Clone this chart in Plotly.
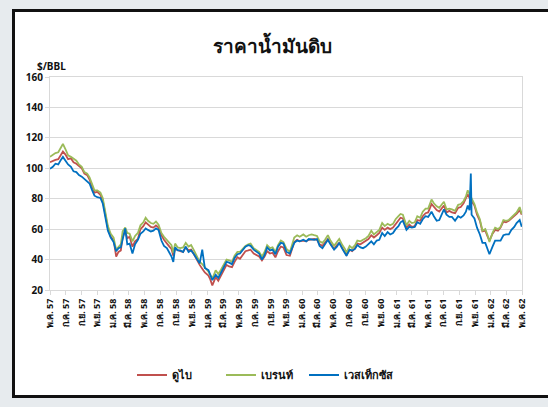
import plotly.graph_objects as go

dates = [
    "2014-05-01", "2014-05-12", "2014-05-22", "2014-06-02", "2014-06-12", "2014-06-20", "2014-06-30",
    "2014-07-10", "2014-07-21", "2014-07-31", "2014-08-11", "2014-08-21", "2014-09-01", "2014-09-11",
    "2014-09-22", "2014-10-01", "2014-10-10", "2014-10-20", "2014-10-31", "2014-11-12", "2014-11-21",
    "2014-12-01", "2014-12-11", "2014-12-22", "2015-01-02", "2015-01-12", "2015-01-21", "2015-01-30",
    "2015-02-06", "2015-02-16", "2015-02-24", "2015-03-05", "2015-03-16", "2015-03-26", "2015-04-06",
    "2015-04-16", "2015-04-27", "2015-05-06", "2015-05-15", "2015-05-26", "2015-06-05", "2015-06-15",
    "2015-06-25", "2015-07-06", "2015-07-16", "2015-07-27", "2015-08-06", "2015-08-14", "2015-08-21",
    "2015-08-28", "2015-09-07", "2015-09-17", "2015-09-28", "2015-10-08", "2015-10-19", "2015-10-29",
    "2015-11-09", "2015-11-20", "2015-12-01", "2015-12-11", "2015-12-21", "2016-01-04", "2016-01-11",
    "2016-01-19", "2016-02-01", "2016-02-11", "2016-02-22", "2016-03-03", "2016-03-14", "2016-03-24",
    "2016-04-04", "2016-04-14", "2016-04-25", "2016-05-05", "2016-05-16", "2016-05-26", "2016-06-06",
    "2016-06-15", "2016-06-27", "2016-07-07", "2016-07-18", "2016-07-29", "2016-08-08", "2016-08-18",
    "2016-08-29", "2016-09-08", "2016-09-19", "2016-09-29", "2016-10-10", "2016-10-20", "2016-11-01",
    "2016-11-14", "2016-12-01", "2016-12-12", "2016-12-22", "2017-01-05", "2017-01-16", "2017-01-26",
    "2017-02-06", "2017-02-16", "2017-02-27", "2017-03-09", "2017-03-20", "2017-03-30", "2017-04-10",
    "2017-04-20", "2017-05-04", "2017-05-15", "2017-05-24", "2017-06-05", "2017-06-15", "2017-06-21",
    "2017-07-03", "2017-07-13", "2017-07-24", "2017-08-02", "2017-08-14", "2017-08-24", "2017-09-04",
    "2017-09-14", "2017-09-25", "2017-10-05", "2017-10-16", "2017-10-26", "2017-11-06", "2017-11-16",
    "2017-11-27", "2017-12-07", "2017-12-18", "2017-12-28", "2018-01-08", "2018-01-16", "2018-01-25",
    "2018-02-08", "2018-02-19", "2018-03-01", "2018-03-12", "2018-03-22", "2018-04-02", "2018-04-12",
    "2018-04-23", "2018-05-03", "2018-05-16", "2018-05-25", "2018-06-05", "2018-06-15", "2018-06-26",
    "2018-07-03", "2018-07-13", "2018-07-24", "2018-08-03", "2018-08-15", "2018-08-27", "2018-09-06",
    "2018-09-17", "2018-09-26", "2018-10-03", "2018-10-10", "2018-10-15", "2018-10-18", "2018-10-29",
    "2018-11-08", "2018-11-19", "2018-11-29", "2018-12-10", "2018-12-19", "2018-12-26", "2019-01-07",
    "2019-01-17", "2019-01-28", "2019-02-07", "2019-02-18", "2019-02-28", "2019-03-11", "2019-03-21",
    "2019-04-01", "2019-04-10", "2019-04-22", "2019-04-30",
]

dubai = [
    104.0, 105.0, 105.5, 106.0, 108.5, 111.0, 109.0,
    106.0, 106.5, 104.0, 103.0, 101.5, 100.0, 96.5,
    95.5, 92.5, 88.0, 84.0, 84.5, 82.5, 79.0,
    69.0, 60.5, 55.0, 53.0, 42.0, 45.0, 46.0,
    55.0, 58.5, 54.0, 55.0, 48.5, 52.0, 53.5,
    60.0, 62.0, 64.5, 63.0, 61.5, 61.0, 62.5,
    61.0, 56.0, 53.0, 51.0, 48.5, 47.0, 42.5,
    47.0, 46.0, 45.5, 45.0, 48.0, 46.0, 46.5,
    43.5, 39.5, 36.5, 34.0, 31.5, 29.5, 27.0,
    23.0, 28.5, 26.0, 29.5, 32.5, 36.5, 35.5,
    35.0, 38.5, 41.5, 40.5, 43.5, 45.5, 46.0,
    46.5, 44.0, 43.0, 42.0, 39.5, 42.0, 45.5,
    44.0, 44.5, 41.5, 45.5, 48.5, 48.0, 43.0,
    42.5, 51.5, 53.0, 52.0, 52.5, 52.0, 53.0,
    53.5, 53.5, 53.0, 50.0, 49.0, 51.0, 53.5,
    50.5, 47.0, 49.5, 51.0, 47.5, 45.0, 43.0,
    46.5, 45.5, 47.5, 50.5, 50.0, 51.0, 52.0,
    53.5, 56.0, 54.5, 56.0, 57.5, 61.0, 59.5,
    61.0, 60.0, 61.0, 63.5, 66.0, 67.5, 67.0,
    61.0, 63.0, 61.5, 62.0, 66.0, 65.5, 68.5,
    70.5, 71.0, 76.5, 74.5, 72.5, 71.5, 74.5,
    75.5, 71.0, 72.0, 71.0, 70.5, 74.0, 74.5,
    77.0, 80.0, 83.0, 80.5, 79.0, 78.5, 75.5,
    69.5, 65.5, 58.5, 59.0, 55.0, 52.5, 57.0,
    59.5, 59.0, 61.0, 65.0, 64.5, 65.5, 67.0,
    68.5, 70.0, 72.5, 69.5,
]

brent = [
    107.5, 109.0, 110.0, 110.5, 113.5, 116.0, 112.5,
    108.5, 107.5, 106.0, 105.0, 102.5, 101.0, 97.5,
    96.5, 94.0, 90.0, 85.5, 85.5, 84.0, 80.5,
    71.0, 62.0, 57.0, 54.5, 46.5, 48.5, 50.0,
    58.5, 61.0, 57.5, 57.0, 52.0, 55.5, 57.5,
    62.5, 64.5, 67.5, 65.5, 64.0, 63.5, 65.0,
    63.0, 57.5, 55.0, 53.0, 50.5, 49.5, 44.5,
    50.5, 48.0, 47.5, 48.0, 51.0, 48.5, 49.5,
    46.0, 42.0, 38.5, 37.0, 35.0, 32.0, 30.0,
    27.5, 33.0, 30.5, 33.5, 36.5, 40.0, 39.5,
    38.5, 42.5, 45.0, 45.0, 47.5, 49.0, 50.0,
    50.5, 47.5, 46.0, 45.0, 42.0, 45.0, 49.5,
    47.5, 48.0, 45.0, 49.5, 52.5, 51.5, 47.0,
    45.0, 54.5, 56.0, 55.0, 56.5, 55.0, 56.0,
    56.5, 56.0, 55.5, 52.0, 51.0, 53.0, 56.0,
    52.5, 49.0, 51.5, 53.5, 49.5, 47.0, 44.5,
    49.0, 47.5, 49.5, 52.5, 52.0, 53.0, 54.0,
    55.5, 59.0, 56.5, 58.0, 59.5, 64.0, 62.0,
    63.5, 62.5, 63.5, 66.5, 68.5, 70.0, 69.5,
    62.5, 65.5, 64.0, 64.5, 68.5, 67.5, 71.5,
    73.5, 73.5, 79.5, 77.0, 75.0, 74.0, 76.5,
    78.0, 73.0, 73.5, 73.0, 72.0, 76.0, 76.5,
    78.5, 81.5, 85.5, 83.0, 80.5, 79.5, 76.5,
    71.0, 66.5, 59.0, 60.0, 56.0, 51.5, 57.5,
    61.0, 60.0, 61.5, 66.0, 65.5, 66.0, 67.5,
    69.0, 71.0, 74.5, 70.0,
]

wti = [
    99.7, 101.0, 103.0, 102.5, 105.5, 107.5, 105.0,
    102.5, 101.0, 98.0, 97.5, 95.5, 94.5, 93.0,
    92.0, 90.0, 86.0, 82.0, 81.0, 80.5, 77.0,
    67.0, 59.0, 54.5, 51.5, 45.5, 47.5, 48.0,
    54.0, 60.5, 50.0, 50.5, 44.0, 50.0, 53.0,
    57.0, 58.5, 60.5, 59.5, 58.5, 59.0, 60.5,
    59.5, 52.5, 49.0, 47.5, 44.5, 42.0, 38.5,
    48.0, 46.0, 46.0, 45.0, 48.5, 45.0, 46.0,
    43.5, 40.0, 37.5, 46.5, 34.5, 33.0, 30.0,
    26.5, 30.0, 28.0, 31.5, 34.5, 38.5, 38.0,
    37.0, 41.0, 43.5, 44.0, 46.5, 48.5, 49.5,
    49.0, 46.5, 45.0, 44.0, 40.0, 43.0, 48.0,
    46.0, 46.5, 43.5, 48.5, 51.0, 50.5, 45.0,
    44.0, 51.0, 52.5, 52.0, 53.0, 52.0, 53.5,
    53.0, 53.0, 53.5, 49.0, 47.5, 50.0, 53.0,
    50.0, 46.5, 48.5, 51.0, 47.0, 44.5, 42.5,
    46.5, 46.0, 47.0, 49.5, 48.0, 47.5, 48.5,
    50.0, 52.0, 50.0, 52.5, 53.0, 57.5, 55.5,
    58.0, 56.5, 57.5, 60.0, 62.0, 64.5, 65.5,
    59.5, 61.5, 61.0, 61.5, 64.5, 63.5, 66.5,
    68.5, 68.0, 71.5, 68.5, 65.5, 66.0, 70.5,
    73.0, 69.5, 68.0, 68.0, 65.5, 68.5, 67.5,
    69.0, 71.5, 75.5, 72.5, 96.5, 69.5, 67.0,
    61.0, 56.5, 51.0, 51.0, 46.5, 43.5, 48.5,
    52.5, 52.5, 52.5, 56.0, 56.5, 56.5, 59.5,
    61.5, 64.0, 66.0, 61.5,
]

tick_dates = [
    "2014-05-01", "2014-07-01", "2014-09-01", "2014-11-01",
    "2015-01-01", "2015-03-01", "2015-05-01", "2015-07-01", "2015-09-01", "2015-11-01",
    "2016-01-01", "2016-03-01", "2016-05-01", "2016-07-01", "2016-09-01", "2016-11-01",
    "2017-01-01", "2017-03-01", "2017-05-01", "2017-07-01", "2017-09-01", "2017-11-01",
    "2018-01-01", "2018-03-01", "2018-05-01", "2018-07-01", "2018-09-01", "2018-11-01",
    "2019-01-01", "2019-03-01", "2019-05-01",
]
tick_labels = [
    "พ.ค. 57", "ก.ค. 57", "ก.ย. 57", "พ.ย. 57",
    "ม.ค. 58", "มี.ค. 58", "พ.ค. 58", "ก.ค. 58", "ก.ย. 58", "พ.ย. 58",
    "ม.ค. 59", "มี.ค. 59", "พ.ค. 59", "ก.ค. 59", "ก.ย. 59", "พ.ย. 59",
    "ม.ค. 60", "มี.ค. 60", "พ.ค. 60", "ก.ค. 60", "ก.ย. 60", "พ.ย. 60",
    "ม.ค. 61", "มี.ค. 61", "พ.ค. 61", "ก.ค. 61", "ก.ย. 61", "พ.ย. 61",
    "ม.ค. 62", "มี.ค. 62", "พ.ค. 62",
]

series_names = ["ดูไบ", "เบรนท์", "เวสเท็กซัส"]
series_colors = ["#c0504d", "#9bbb59", "#0070c0"]
title_text = "ราคาน้ำมันดิบ"
unit_text = "$/BBL"

FONT = "Tahoma, 'Noto Sans', 'DejaVu Sans', sans-serif"

L, R, T, B = 50, 26, 77, 117
W, H = 548, 407
pw, ph = W - L - R, H - T - B

def px_x(x):
    return (x - L) / pw

def px_y(y):
    return (H - B - y) / ph

legend_ids = ["legend", "legend2", "legend3"]
legend_px = [132, 221, 304]

fig = go.Figure()
for name, vals, col, lid in zip(series_names, [dubai, brent, wti], series_colors, legend_ids):
    fig.add_trace(go.Scatter(x=dates, y=vals, mode="lines", name=name, legend=lid,
                             line=dict(color=col, width=1.8)))

fig.add_shape(type="rect", xref="paper", yref="paper", layer="below",
              x0=px_x(13.5), x1=px_x(560), y0=px_y(396.5), y1=px_y(10.5),
              line=dict(color="#111111", width=3), fillcolor="white")

fig.add_annotation(text=f"<b>{title_text}</b>", xref="paper", yref="paper",
                   x=px_x(272), y=px_y(46), xanchor="center", yanchor="middle",
                   showarrow=False,
                   font=dict(size=19, color="#111111", family=FONT))
fig.add_annotation(text=f"<b>{unit_text}</b>", xref="paper", yref="paper",
                   x=px_x(35), y=px_y(66), xanchor="left", yanchor="middle",
                   showarrow=False,
                   font=dict(size=10, color="#111111", family=FONT))

legend_common = dict(orientation="h", xanchor="left", yanchor="middle",
                     font=dict(size=11, family=FONT, weight="bold", color="#111111"),
                     itemwidth=30, bgcolor="rgba(0,0,0,0)")

fig.update_layout(
    width=W, height=H,
    margin=dict(l=L, r=R, t=T, b=B),
    paper_bgcolor="#e7ebee",
    plot_bgcolor="white",
    font=dict(family=FONT, color="#111111"),
    showlegend=True,
    legend=dict(x=px_x(legend_px[0]), y=px_y(375), **legend_common),
    legend2=dict(x=px_x(legend_px[1]), y=px_y(375), **legend_common),
    legend3=dict(x=px_x(legend_px[2]), y=px_y(375), **legend_common),
    xaxis=dict(type="date", range=["2014-05-01", "2019-05-01"],
               tickvals=tick_dates, ticktext=[f"<b>{t}</b>" for t in tick_labels],
               tickangle=-90, tickfont=dict(size=9, family=FONT),
               ticks="outside", ticklen=4, tickcolor="#d9d9d9",
               showgrid=False, showline=True, linecolor="#d9d9d9", linewidth=1, mirror=True,
               zeroline=False),
    yaxis=dict(range=[20, 160], tickvals=[20, 40, 60, 80, 100, 120, 140, 160],
               ticktext=[f"<b>{v}</b>" for v in [20, 40, 60, 80, 100, 120, 140, 160]],
               tickfont=dict(size=10, family=FONT),
               ticks="outside", ticklen=4, tickcolor="#d9d9d9",
               showgrid=True, gridcolor="#d9d9d9", gridwidth=1,
               showline=True, linecolor="#d9d9d9", linewidth=1, mirror=True,
               zeroline=False),
)

fig.write_html("out.html", config={"displayModeBar": False},
               post_script="document.body.style.margin='0px';")
